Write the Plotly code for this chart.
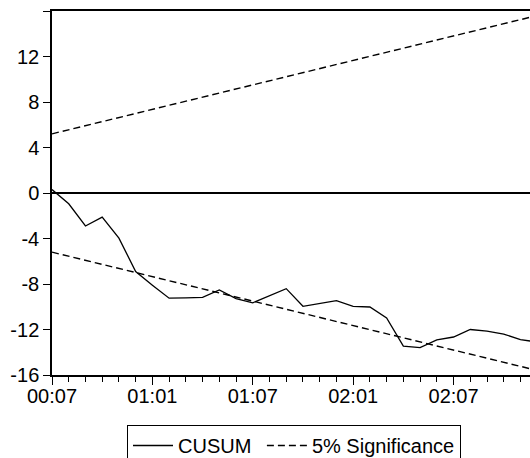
import plotly.graph_objects as go

# Monthly periods (yy:mm) covered by the recursive residuals
periods = [
    "00:07", "00:08", "00:09", "00:10", "00:11", "00:12",
    "01:01", "01:02", "01:03", "01:04", "01:05", "01:06",
    "01:07", "01:08", "01:09", "01:10", "01:11", "01:12",
    "02:01", "02:02", "02:03", "02:04", "02:05", "02:06",
    "02:07", "02:08", "02:09", "02:10", "02:11", "02:12",
]

# CUSUM of recursive residuals
cusum = [
    0.30, -0.95, -2.90, -2.12, -3.97, -6.90,
    -8.10, -9.25, -9.22, -9.18, -8.52, -9.29,
    -9.65, -9.00, -8.41, -9.96, -9.73, -9.47,
    -9.96, -10.02, -10.99, -13.46, -13.60, -12.92,
    -12.66, -12.00, -12.15, -12.40, -12.89, -13.10,
]

# 5% significance bounds
upper = [
    5.20, 5.56, 5.92, 6.27, 6.63, 6.99,
    7.35, 7.71, 8.07, 8.43, 8.78, 9.14,
    9.50, 9.86, 10.22, 10.58, 10.94, 11.29,
    11.65, 12.01, 12.37, 12.73, 13.09, 13.45,
    13.80, 14.16, 14.52, 14.88, 15.24, 15.60,
]
lower = [
    -5.20, -5.56, -5.92, -6.27, -6.63, -6.99,
    -7.35, -7.71, -8.07, -8.43, -8.78, -9.14,
    -9.50, -9.86, -10.22, -10.58, -10.94, -11.29,
    -11.65, -12.01, -12.37, -12.73, -13.09, -13.45,
    -13.80, -14.16, -14.52, -14.88, -15.24, -15.60,
]

x_labels = ["00:07", "01:01", "01:07", "02:01", "02:07"]
y_ticks = [-16, -12, -8, -4, 0, 4, 8, 12, 16]
y_labels = ["-16", "-12", "-8", "-4", "0", "4", "8", "12", ""]

pos = list(range(len(periods)))
tick_pos = [periods.index(lbl) for lbl in x_labels]

FONT = "Liberation Sans, Arial, sans-serif"
dash = "7px,4px"

fig = go.Figure()
fig.add_trace(go.Scatter(
    x=pos, y=cusum, mode="lines", name="CUSUM\u00a0",
    line=dict(color="black", width=1.3),
))
fig.add_trace(go.Scatter(
    x=pos, y=upper, mode="lines", name="5% Significance",
    line=dict(color="black", width=1.4, dash=dash),
))
fig.add_trace(go.Scatter(
    x=pos, y=lower, mode="lines", name="5% Significance lower",
    line=dict(color="black", width=1.4, dash=dash),
    showlegend=False,
))

fig.update_layout(
    width=530, height=458,
    margin=dict(l=52, r=0, t=11, b=83, autoexpand=False),
    paper_bgcolor="white", plot_bgcolor="white",
    font=dict(family=FONT, size=20, color="black"),
    showlegend=True,
    legend=dict(
        orientation="h",
        xref="container", yref="container",
        x=127 / 530, y=1 - 425 / 458,
        xanchor="left", yanchor="top",
        bordercolor="black", borderwidth=1,
        bgcolor="white",
        font=dict(family=FONT, size=20, color="black"),
        itemwidth=40,
    ),
)

fig.update_xaxes(
    range=[0, 28.57],
    tickmode="array", tickvals=tick_pos, ticktext=x_labels,
    ticks="outside", ticklen=8, tickwidth=1.3, tickcolor="black",
    ticklabelstandoff=-6,
    minor=dict(dtick=1, tick0=0, ticks="outside", ticklen=5,
               tickwidth=1.3, tickcolor="black", showgrid=False),
    showline=True, linecolor="black", linewidth=1.5, mirror=True,
    showgrid=False, zeroline=False,
)
fig.update_yaxes(
    range=[-16, 16],
    tickmode="array", tickvals=y_ticks, ticktext=y_labels,
    ticks="outside", ticklen=7, tickwidth=1.3, tickcolor="black",
    showline=True, linecolor="black", linewidth=1.5,
    showgrid=False,
    zeroline=True, zerolinecolor="black", zerolinewidth=1.5,
)

fig.write_html("out.html")
